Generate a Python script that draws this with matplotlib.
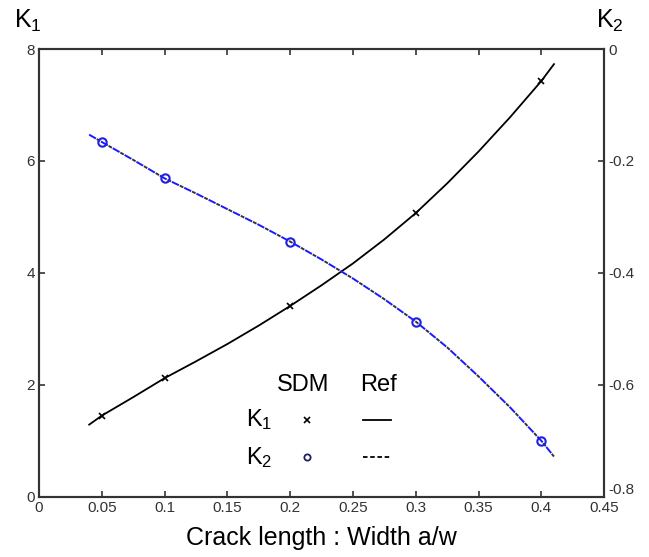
import matplotlib
matplotlib.use("Agg")
import matplotlib.pyplot as plt

plt.rcParams["font.family"] = ["Liberation Sans", "DejaVu Sans"]
plt.rcParams["mathtext.default"] = "regular"

# SDM points
x_sdm = [0.05, 0.1, 0.2, 0.3, 0.4]
k1_sdm = [1.45, 2.12, 3.41, 5.07, 7.43]
k2_sdm = [-0.166, -0.231, -0.344, -0.487, -0.700]

# reference curves
x_ref = [0.04, 0.05, 0.075, 0.1, 0.125, 0.15, 0.175, 0.2, 0.225, 0.25,
         0.275, 0.3, 0.325, 0.35, 0.375, 0.4, 0.41]
k1_ref = [1.29, 1.45, 1.78, 2.12, 2.42, 2.73, 3.06, 3.41, 3.78, 4.17,
          4.60, 5.07, 5.60, 6.17, 6.78, 7.43, 7.73]
k2_ref = [-0.153, -0.166, -0.198, -0.231, -0.258, -0.286, -0.314, -0.344, -0.376, -0.410,
          -0.447, -0.487, -0.533, -0.585, -0.640, -0.700, -0.728]

x_ticks = [0, 0.05, 0.1, 0.15, 0.2, 0.25, 0.3, 0.35, 0.4, 0.45]
x_labels = ["0", "0.05", "0.1", "0.15", "0.2", "0.25", "0.3", "0.35", "0.4", "0.45"]
k1_ticks = [0, 2, 4, 6, 8]
k2_ticks = [-0.8, -0.6, -0.4, -0.2, 0]
k2_labels = ["-0.8", "-0.6", "-0.4", "-0.2", "0"]

fig = plt.figure(figsize=(6.49, 5.57), dpi=100)
ax = fig.add_axes([0.060, 0.108, 0.871, 0.804])
ax2 = ax.twinx()

ax.plot(x_ref, k1_ref, color="black", lw=1.3)
ax.plot(x_sdm, k1_sdm, ls="none", marker="x", color="black", ms=5, mew=1.2)

# blue dashes with short dark dashes in the gaps
ax2.plot(x_ref, k2_ref, color="#1a1aff", lw=1.4, ls=(0, (4, 3)))
ax2.plot(x_ref, k2_ref, color="#333333", lw=1.4, ls=(2.5, (2, 5)))
ax2.plot(x_sdm, k2_sdm, ls="none", marker="o", mfc="none", mec="#2020e0",
         ms=6, mew=1.5)

ax.set_xlim(0, 0.45)
ax.set_ylim(0, 8)
ax2.set_ylim(-0.8, 0)
ax.set_xticks(x_ticks, x_labels)
ax.set_yticks(k1_ticks)
ax2.set_yticks(k2_ticks, k2_labels)

for a in (ax, ax2):
    for s in a.spines.values():
        s.set_linewidth(1.5)
        s.set_color("#333333")
ax.tick_params(direction="in", length=4, width=1.2, labelsize=11, colors="#333333",
               top=True, pad=3)
ax2.tick_params(direction="in", length=4, width=1.2, labelsize=11, colors="#333333", pad=3)
ax2.get_yticklabels()[0].set_verticalalignment("bottom")

ax.set_xlabel("Crack length : Width a/w", fontsize=18, labelpad=8)

fig.text(0.021, 0.962, "K$_1$", fontsize=18, va="center")
fig.text(0.918, 0.962, "K$_2$", fontsize=18, va="center")

# legend table
ax.text(0.21, 2.00, "SDM", fontsize=17, ha="center", va="center")
ax.text(0.270, 2.00, "Ref", fontsize=17, ha="center", va="center")
ax.text(0.175, 1.375, "K$_1$", fontsize=17, ha="center", va="center")
ax.text(0.175, 0.70, "K$_2$", fontsize=17, ha="center", va="center")
ax.plot([0.213], [1.375], ls="none", marker="x", color="black", ms=4, mew=1.2)
ax.plot([0.213], [0.71], ls="none", marker="o", mfc="none", mec="#202060", ms=4.5, mew=1.3)
ax.plot([0.258, 0.280], [1.375, 1.375], color="black", lw=1.3)
ax.plot([0.258, 0.280], [0.71, 0.71], color="black", lw=1.3, ls=(0, (2.5, 1.5)))

fig.savefig("out.png", dpi=100)
